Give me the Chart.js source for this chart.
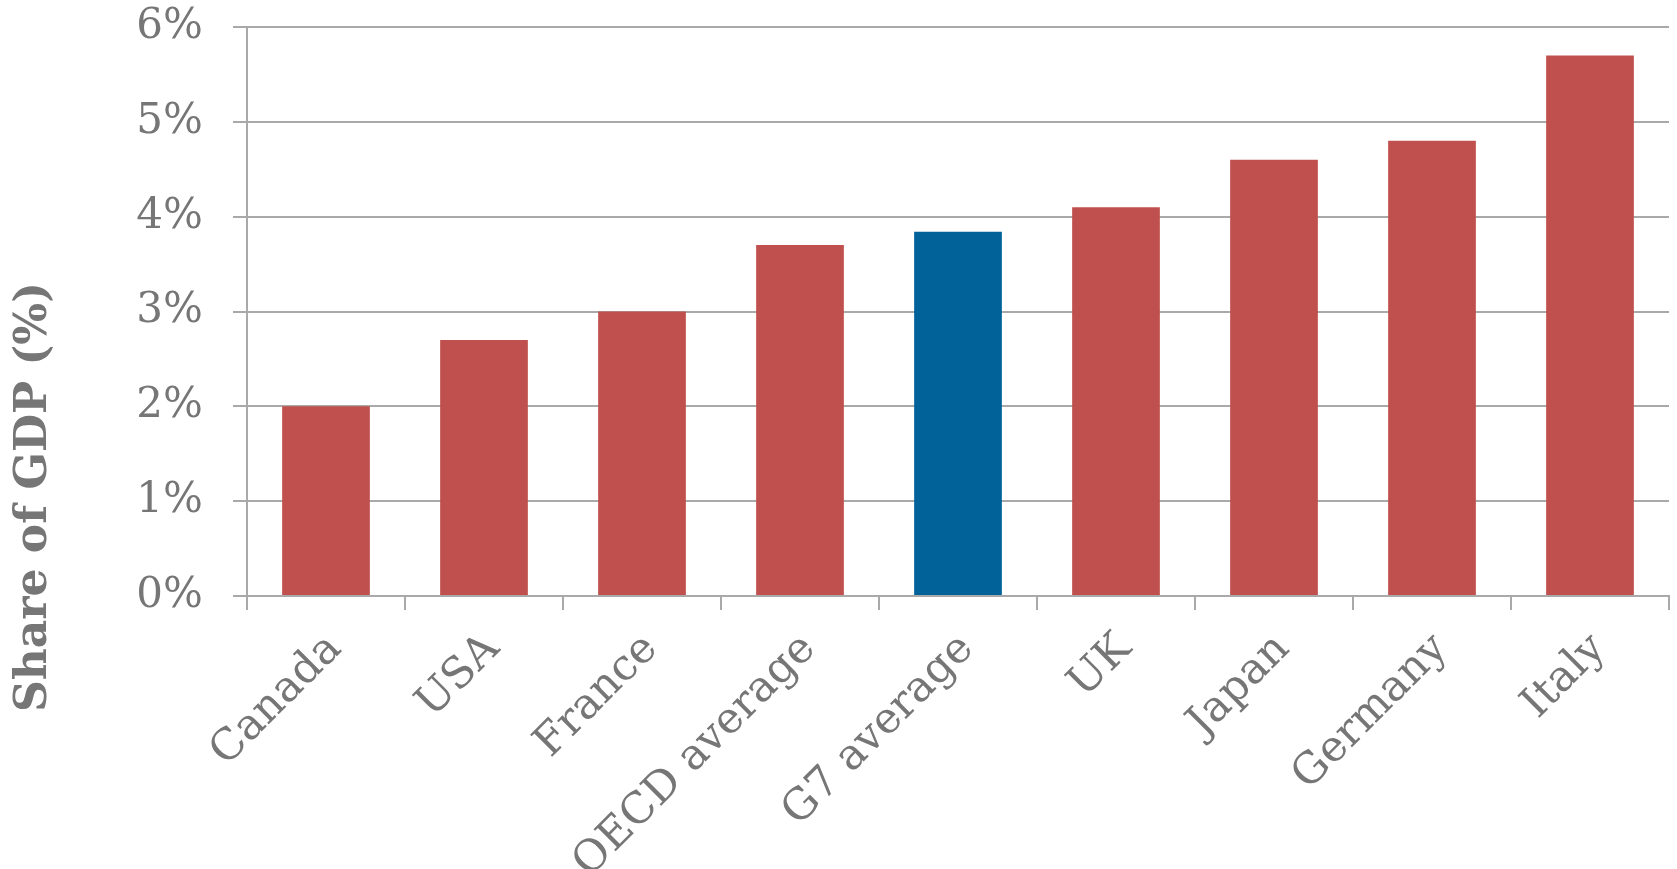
<!DOCTYPE html>
<html>
<head>
<meta charset="utf-8">
<script src="https://cdn.jsdelivr.net/npm/chart.js@4.4.1/dist/chart.umd.min.js"></script>
<style>
html,body{margin:0;padding:0;background:#fff;}
#wrap{width:1677px;height:869px;position:relative;}
</style>
</head>
<body>
<div id="wrap"><canvas id="c" width="1677" height="869"></canvas></div>
<script>
const categories = ["Canada","USA","France","OECD average","G7 average","UK","Japan","Germany","Italy"];
const shareOfGDP = [2.0, 2.7, 3.0, 3.7, 3.84, 4.1, 4.6, 4.8, 5.7];
const barColors = ["#c0504d","#c0504d","#c0504d","#c0504d","#006298","#c0504d","#c0504d","#c0504d","#c0504d"];
const yTicks = [0,1,2,3,4,5,6];
const yTitle = "Share of GDP (%)";

const TEXT = "#767676";
const GRID = "#a9a9a9";
const FONT = "'DejaVu Serif', 'Liberation Serif', serif";

const titlePlugin = {
  id: 'ytitle',
  afterDraw(chart) {
    const ctx = chart.ctx;
    ctx.save();
    ctx.translate(35, 497);
    ctx.rotate(-Math.PI/2);
    ctx.font = "bold 44px " + FONT;
    ctx.fillStyle = TEXT;
    ctx.textAlign = 'center';
    ctx.textBaseline = 'middle';
    ctx.fillText(yTitle, 0, 0);
    ctx.restore();
  }
};

new Chart(document.getElementById('c'), {
  type: 'bar',
  data: {
    labels: categories,
    datasets: [{
      data: shareOfGDP,
      backgroundColor: barColors,
      borderWidth: 0,
      barPercentage: 0.555,
      categoryPercentage: 1.0
    }]
  },
  options: {
    responsive: false,
    animation: false,
    devicePixelRatio: 1,
    layout: { padding: { top: 27, right: 8, left: 0, bottom: 0 } },
    plugins: { legend: { display: false }, tooltip: { enabled: false } },
    scales: {
      x: {
        offset: true,
        grid: { display: true, drawOnChartArea: false, drawTicks: true, tickLength: 14, color: GRID, lineWidth: 2, offset: true },
        border: { display: true, color: GRID, width: 2 },
        ticks: {
          color: TEXT,
          font: { family: FONT, size: 43 },
          maxRotation: 45, minRotation: 45,
          padding: 14,
          labelOffset: 9,
          autoSkip: false
        },
        afterFit(scale) {
          scale.height = 273;
          scale.paddingLeft = 0; scale.paddingRight = 0; scale.paddingTop = 0; scale.paddingBottom = 0;
        }
      },
      y: {
        min: 0, max: 6,
        afterBuildTicks(scale) { scale.ticks = yTicks.map(v => ({ value: v })); },
        grid: { color: GRID, lineWidth: 2, tickLength: 14, drawTicks: true },
        border: { display: true, color: GRID, width: 2 },
        ticks: {
          color: TEXT,
          font: { family: FONT, size: 42 },
          padding: 30,
          callback: v => v + '%'
        },
        afterFit(scale) {
          scale.width = 247;
          scale.paddingLeft = 0; scale.paddingRight = 0; scale.paddingTop = 0; scale.paddingBottom = 0;
        }
      }
    }
  },
  plugins: [titlePlugin]
});
</script>
</body>
</html>
